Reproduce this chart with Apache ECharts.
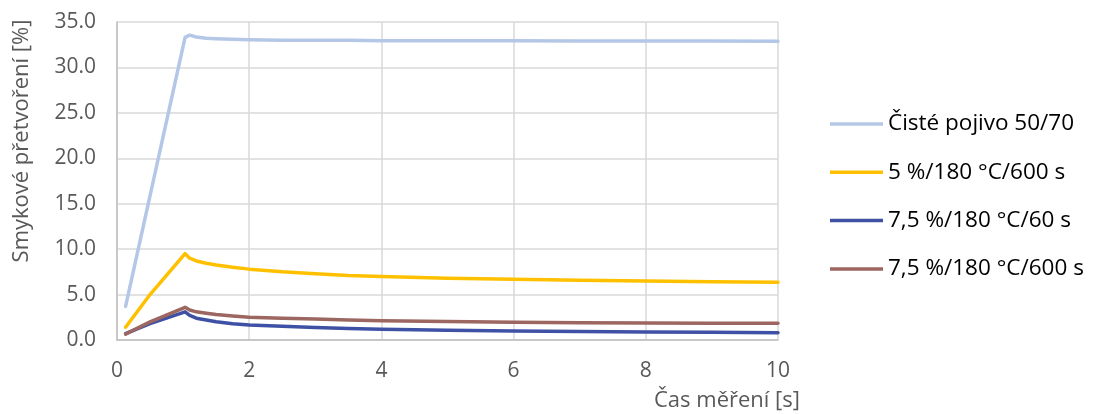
<!DOCTYPE html>
<html>
<head>
<meta charset="utf-8">
<script src="https://cdn.jsdelivr.net/npm/echarts@6/dist/echarts.min.js"></script>
<style>
  html, body { margin: 0; padding: 0; background: #fff; }
  #chart { width: 1098px; height: 414px; }
</style>
</head>
<body>
<div id="chart"></div>
<script>
// Measurement time [s]
const time = [0.13, 0.5, 1.03, 1.1, 1.2, 1.35, 1.5, 1.75, 2, 2.5, 3, 3.5, 4, 5, 6, 7, 8, 9, 10];

// Shear strain [%] per binder
const cistePojivo = [3.7, 15.9, 33.3, 33.55, 33.35, 33.2, 33.15, 33.1, 33.05, 33.0, 33.0, 32.98, 32.95, 32.95, 32.93, 32.92, 32.9, 32.9, 32.88];
const p5_180_600 = [1.4, 5.0, 9.5, 9.0, 8.7, 8.45, 8.25, 8.0, 7.8, 7.5, 7.3, 7.1, 7.0, 6.8, 6.68, 6.58, 6.5, 6.42, 6.35];
const p75_180_60 = [0.7, 1.8, 3.1, 2.7, 2.4, 2.2, 2.0, 1.8, 1.65, 1.5, 1.38, 1.27, 1.18, 1.07, 0.99, 0.93, 0.88, 0.84, 0.8];
const p75_180_600 = [0.65, 2.0, 3.6, 3.3, 3.1, 2.95, 2.8, 2.65, 2.5, 2.4, 2.3, 2.2, 2.13, 2.03, 1.95, 1.9, 1.87, 1.85, 1.84];

const seriesNames = ['Čisté pojivo 50/70', '5 %/180 °C/600 s', '7,5 %/180 °C/60 s', '7,5 %/180 °C/600 s'];
const seriesValues = [cistePojivo, p5_180_600, p75_180_60, p75_180_600];
const colors = ['#B4C7E7', '#FFC000', '#3F51A5', '#9C6661'];

const font = 'Open Sans, Liberation Sans, sans-serif';

const chart = echarts.init(document.getElementById('chart'), null, { renderer: 'canvas' });

chart.setOption({
  animation: false,
  color: colors,
  grid: { left: 117, right: 320, top: 22, bottom: 74 },
  legend: {
    orient: 'vertical',
    left: 825,
    top: 107,
    icon: 'rect',
    itemWidth: 53,
    itemHeight: 3.5,
    itemGap: 24.3,
    textStyle: { fontFamily: font, fontSize: 22.5, color: '#000', lineHeight: 24 },
    data: seriesNames
  },
  xAxis: {
    type: 'value',
    min: 0,
    max: 10,
    interval: 2,
    axisLine: { lineStyle: { color: '#BFBFBF', width: 1.5 } },
    axisTick: { show: false },
    splitLine: { lineStyle: { color: '#D9D9D9', width: 1.5 } },
    axisLabel: { fontFamily: font, fontSize: 21, color: '#595959', margin: 21 }
  },
  yAxis: {
    type: 'value',
    min: 0,
    max: 35,
    interval: 5,
    axisLine: { show: true, lineStyle: { color: '#BFBFBF', width: 1.5 } },
    axisTick: { show: false },
    splitLine: { lineStyle: { color: '#D9D9D9', width: 1.5 } },
    axisLabel: { fontFamily: font, fontSize: 21, color: '#595959', margin: 21, formatter: v => v.toFixed(1) }
  },
  graphic: [
    {
      type: 'text',
      right: 298,
      top: 390,
      style: { text: 'Čas měření [s]', fontFamily: font, fontSize: 22, fill: '#595959' }
    },
    {
      type: 'text',
      x: 22,
      y: 141,
      rotation: Math.PI / 2,
      style: {
        text: 'Smykové přetvoření [%]', fontFamily: font, fontSize: 22, fill: '#595959',
        align: 'center', verticalAlign: 'middle'
      }
    }
  ],
  series: seriesNames.map((name, i) => ({
    name: name,
    type: 'line',
    smooth: false,
    symbol: 'none',
    lineStyle: { width: 3.5, color: colors[i], cap: 'round', join: 'round' },
    itemStyle: { color: colors[i] },
    data: time.map((t, k) => [t, seriesValues[i][k]])
  }))
});
</script>
</body>
</html>
